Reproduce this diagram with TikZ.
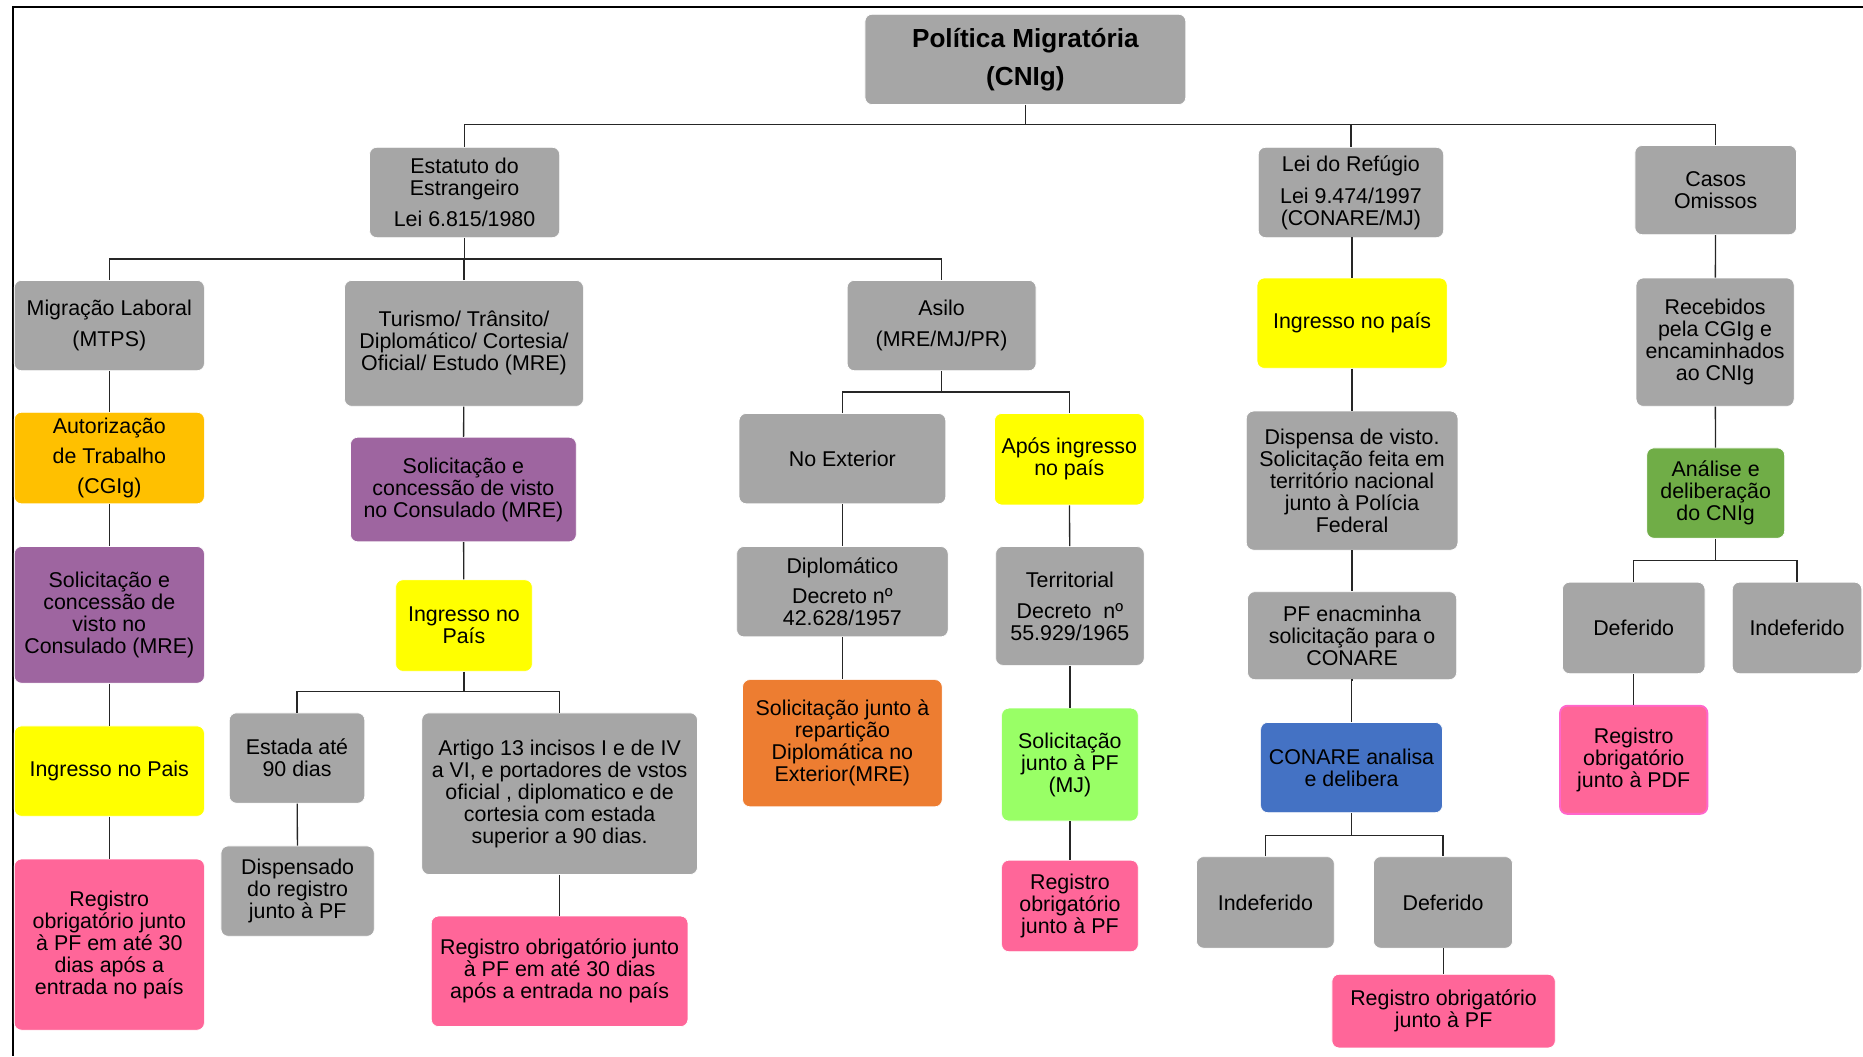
\documentclass[tikz,border=0pt]{standalone}
\usepackage{fontspec}
\setmainfont{Liberation Sans}
\definecolor{cgray}{HTML}{A6A6A6}
\definecolor{cyel}{HTML}{FFFF00}
\definecolor{cgold}{HTML}{FFC000}
\definecolor{cpurp}{HTML}{9E65A0}
\definecolor{cpink}{HTML}{FF6699}
\definecolor{corange}{HTML}{ED7D31}
\definecolor{clgreen}{HTML}{99FF66}
\definecolor{cgreen}{HTML}{70AD47}
\definecolor{cblue}{HTML}{4472C4}
\definecolor{cline}{HTML}{262626}
\definecolor{cmag}{HTML}{FF66CC}
\begin{document}
\begin{tikzpicture}[x=1pt,y=-1pt,
  box/.style={rounded corners=6pt, draw=white, line width=0.6pt, align=center, inner sep=0pt,
    font=\fontsize{18}{18.5}\selectfont, text=black},
  gbox/.style={box, fill=cgray},
  ybox/.style={box, fill=cyel},
  pbox/.style={box, fill=cpurp},
  kbox/.style={box, fill=cpink},
  conn/.style={draw=cline, line width=1.1pt}]
\useasboundingbox (0,0) rectangle (1568,889);
\draw[line width=1.7pt] (1568,6) -- (11,6) -- (11,889);

% level 0
\node[gbox, minimum width=270, minimum height=76, font=\fontsize{22}{24}\selectfont\bfseries] (title) at (863,50) {Política Migratória\\[8pt](CNIg)};

% level 1
\node[gbox, minimum width=160, minimum height=76] (est) at (391,162) {Estatuto do\\Estrangeiro\\[7.5pt]Lei 6.815/1980};
\node[gbox, minimum width=156, minimum height=76] (ref) at (1137,162) {Lei do Refúgio\\[8.5pt]Lei 9.474/1997\\(CONARE/MJ)};
\node[gbox, minimum width=136, minimum height=75] (casos) at (1444,160) {Casos\\Omissos};

% level 2 under Estatuto
\node[gbox, minimum width=160, minimum height=76] (mig) at (92,274) {Migração Laboral\\[7.5pt](MTPS)};
\node[gbox, minimum width=201, minimum height=106] (tur) at (390.5,289) {Turismo/ Trânsito/\\Diplomático/ Cortesia/\\Oficial/ Estudo (MRE)};
\node[gbox, minimum width=159, minimum height=76] (asilo) at (792.5,274) {Asilo\\[7.5pt](MRE/MJ/PR)};

% Migração chain
\node[box, fill=cgold, minimum width=160, minimum height=77] (aut) at (92,385.5) {Autorização\\[7pt]de Trabalho\\[7pt](CGIg)};
\node[pbox, minimum width=160, minimum height=115] (sol1) at (92,517.5) {Solicitação e\\concessão de\\visto no\\Consulado (MRE)};
\node[ybox, minimum width=160, minimum height=76] (ing1) at (92,649) {Ingresso no Pais};
\node[kbox, minimum width=160, minimum height=144] (reg1) at (92,795) {Registro\\obrigatório junto\\à PF em até 30\\dias após a\\entrada no país};

% Turismo chain
\node[pbox, minimum width=190, minimum height=88] (sol2) at (390,412) {Solicitação e\\concessão de visto\\no Consulado (MRE)};
\node[ybox, minimum width=115, minimum height=77] (ing2) at (390.5,526.5) {Ingresso no\\País};
\node[gbox, minimum width=114, minimum height=76] (estada) at (250,638) {Estada até\\90 dias};
\node[gbox, minimum width=129, minimum height=76] (disp) at (250.5,750) {Dispensado\\do registro\\junto à PF};
\node[gbox, minimum width=232, minimum height=136] (art) at (471,668) {Artigo 13 incisos I e de IV\\a VI, e portadores de vstos\\oficial , diplomatico e de\\cortesia com estada\\superior a 90 dias.};
\node[kbox, minimum width=216, minimum height=93] (reg2) at (471,817.5) {Registro obrigatório junto\\à PF em até 30 dias\\após a entrada no país};

% Asilo chain
\node[gbox, minimum width=174, minimum height=76] (noext) at (709,386) {No Exterior};
\node[ybox, minimum width=126, minimum height=77] (apos) at (900,386.5) {Após ingresso\\no país};
\node[gbox, minimum width=178, minimum height=76] (dipl) at (709,498) {Diplomático\\[7.5pt]Decreto nº\\42.628/1957};
\node[gbox, minimum width=125, minimum height=100] (terr) at (900.5,510) {Territorial\\[7.5pt]Decreto\ \ nº\\55.929/1965};
\node[box, fill=corange, minimum width=168, minimum height=107] (solrep) at (709,625.5) {Solicitação junto à\\repartição\\Diplomática no\\Exterior(MRE)};
\node[box, fill=clgreen, minimum width=115, minimum height=95] (solpf) at (900.5,643.5) {Solicitação\\junto à PF\\(MJ)};
\node[kbox, minimum width=115, minimum height=77] (reg3) at (900.5,762.5) {Registro\\obrigatório\\junto à PF};

% Refúgio chain
\node[ybox, minimum width=160, minimum height=76] (ing3) at (1138,272) {Ingresso no país};
\node[gbox, minimum width=178, minimum height=117] (dispv) at (1138,404.5) {Dispensa de visto.\\Solicitação feita em\\território nacional\\junto à Polícia\\Federal};
\node[gbox, minimum width=176, minimum height=74] (pfenc) at (1138,535) {PF enacminha\\solicitação para o\\CONARE};
\node[box, fill=cblue, minimum width=153, minimum height=76] (conare) at (1137.5,646) {CONARE analisa\\e delibera};
\node[gbox, minimum width=116, minimum height=77] (indef1) at (1065,759.5) {Indeferido};
\node[gbox, minimum width=117, minimum height=77] (def1) at (1214.5,759.5) {Deferido};
\node[kbox, minimum width=188, minimum height=62] (reg4) at (1215,851) {Registro obrigatório\\junto à PF};

% Casos chain
\node[gbox, minimum width=133, minimum height=108] (receb) at (1443.5,288) {Recebidos\\pela CGIg e\\encaminhados\\ao CNIg};
\node[box, fill=cgreen, minimum width=116, minimum height=76] (anal) at (1444,415) {Análise e\\deliberação\\do CNIg};
\node[gbox, minimum width=120, minimum height=77] (def2) at (1375,528.5) {Deferido};
\node[gbox, minimum width=109, minimum height=77] (indef2) at (1512.5,528.5) {Indeferido};
\node[kbox, draw=cmag, line width=1.5pt, minimum width=124, minimum height=91] (reg5) at (1375,639.5) {Registro\\obrigatório\\junto à PDF};

% bus coordinates
\coordinate (bt) at (0,105);
\coordinate (be) at (0,218);
\coordinate (ba) at (0,330);
\coordinate (bi) at (0,582);
\coordinate (bc) at (0,703);
\coordinate (bn) at (0,472);

% bus connectors
\draw[conn] (title.south) -- (title.south |- bt);
\draw[conn] (est.north) |- (bt -| casos.north) -- (casos.north);
\draw[conn] (ref.north) -- (ref.north |- bt);

\draw[conn] (est.south) -- (est.south |- be);
\draw[conn] (mig.north) |- (be -| asilo.north) -- (asilo.north);
\draw[conn] (tur.north) -- (tur.north |- be);

\draw[conn] (asilo.south) -- (asilo.south |- ba);
\draw[conn] (noext.north) |- (ba -| apos.north) -- (apos.north);

\draw[conn] (ing2.south) -- (ing2.south |- bi);
\draw[conn] (estada.north) |- (bi -| art.north) -- (art.north);

\draw[conn] (conare.south) -- (conare.south |- bc);
\draw[conn] (indef1.north) |- (bc -| def1.north) -- (def1.north);

\draw[conn] (anal.south) -- (anal.south |- bn);
\draw[conn] (def2.north) |- (bn -| indef2.north) -- (indef2.north);

% simple connectors
\draw[conn] (mig) -- (aut);
\draw[conn] (aut) -- (sol1);
\draw[conn] (sol1) -- (ing1);
\draw[conn] (ing1) -- (reg1);
\draw[conn] (tur) -- (sol2);
\draw[conn] (sol2) -- (ing2);
\draw[conn] (estada) -- (disp);
\draw[conn] (art) -- (reg2);
\draw[conn] (noext) -- (dipl);
\draw[conn] (dipl) -- (solrep);
\draw[conn] (apos) -- (terr);
\draw[conn] (terr) -- (solpf);
\draw[conn] (solpf) -- (reg3);
\draw[conn] (ref.south) -- (ref.south -| ing3.north) -- (ing3.north);
\draw[conn] (ing3) -- (dispv);
\draw[conn] (dispv) -- (pfenc);
\draw[conn] (pfenc.south) -- (pfenc.south -| conare.north) -- (conare.north);
\draw[conn] (def1.south) -- (def1.south -| reg4.north) -- (reg4.north);
\draw[conn] (casos) -- (receb);
\draw[conn] (receb) -- (anal);
\draw[conn] (def2) -- (reg5);
\end{tikzpicture}
\end{document}
